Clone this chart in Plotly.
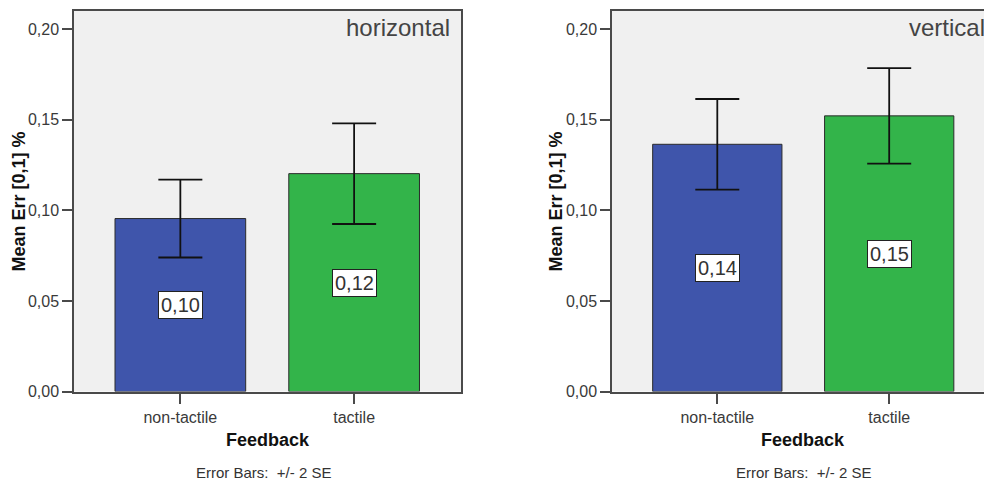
import plotly.graph_objects as go

categories = ["non-tactile", "tactile"]
horizontal_means = [0.0955, 0.1203]
horizontal_err = [0.0215, 0.0278]
vertical_means = [0.1365, 0.1522]
vertical_err = [0.0250, 0.0264]
bar_colors = ["#3F55AB", "#33B44A"]
panel_labels = ["horizontal", "vertical"]
y_ticks = [0.0, 0.05, 0.10, 0.15, 0.20]

W, H = 984, 482
FONT = "Liberation Sans, Arial, sans-serif"

def px(x):
    return x / W

def py(y):
    return (H - y) / H

fig = go.Figure()

panels = [
    (horizontal_means, horizontal_err, "x", "y"),
    (vertical_means, vertical_err, "x2", "y2"),
]
for means, errs, xa, ya in panels:
    fig.add_trace(go.Bar(
        x=categories, y=means, xaxis=xa, yaxis=ya,
        width=0.752,
        marker=dict(color=bar_colors, line=dict(color="#2b2b2b", width=1)),
        error_y=dict(type="data", array=errs, visible=True,
                     color="#111111", thickness=1.8, width=22),
        showlegend=False, hoverinfo="skip",
    ))
    for c, m in zip(categories, means):
        fig.add_annotation(
            x=c, y=m / 2, xref=xa, yref=ya, showarrow=False,
            xanchor="center", yanchor="middle",
            text=f"{m:.2f}".replace(".", ","),
            font=dict(family=FONT, size=20, color="#333333"),
            bgcolor="white", bordercolor="#222222", borderwidth=1, borderpad=2,
        )

axis_common = dict(showgrid=False, zeroline=False, showline=True,
                   automargin=False,
                   linecolor="#4a4a4a", linewidth=1.5,
                   ticks="outside", tickcolor="#4a4a4a", tickwidth=1.5,
                   tickfont=dict(family=FONT, size=16, color="#3a3a3a"))

y_dom = [py(391.5), py(11)]
y_range = [0, 0.2101]

fig.update_layout(
    template="none",
    width=W, height=H,
    autosize=False,
    margin=dict(l=0, r=0, t=0, b=0, pad=0, autoexpand=False),
    paper_bgcolor="white",
    plot_bgcolor="#F0F0F0",
    separators=",.",
    xaxis=dict(domain=[px(74), px(461)], range=[-0.612, 1.615], anchor="y",
               mirror=True, ticklen=11, **axis_common),
    yaxis=dict(domain=y_dom, range=y_range, anchor="x", mirror=True,
               tickvals=y_ticks, tickformat=".2f", ticklen=10, **axis_common),
    xaxis2=dict(domain=[px(612), 1.0], range=[-0.6126, 1.5515], anchor="y2",
                mirror=True, ticklen=11, **axis_common),
    yaxis2=dict(domain=y_dom, range=y_range, anchor="x2", mirror=False,
                tickvals=y_ticks, tickformat=".2f", ticklen=10, **axis_common),
)

# panel labels
fig.add_annotation(x=px(452), y=py(27), xref="paper", yref="paper",
                   xanchor="right", yanchor="middle", showarrow=False,
                   text=panel_labels[0],
                   font=dict(family=FONT, size=24, color="#444444"))
fig.add_annotation(x=px(987), y=py(27), xref="paper", yref="paper",
                   xanchor="right", yanchor="middle", showarrow=False,
                   text=panel_labels[1],
                   font=dict(family=FONT, size=24, color="#444444"))

# axis titles and footnotes
for cx, ycx, fx in [(267.5, 19, 263.3), (802.5, 556, 803)]:
    fig.add_annotation(x=px(cx), y=py(440), xref="paper", yref="paper",
                       xanchor="center", yanchor="middle",
                       showarrow=False, text="<b>Feedback</b>",
                       font=dict(family=FONT, size=18, color="#111111"))
    fig.add_annotation(x=px(fx), y=py(472), xref="paper", yref="paper",
                       xanchor="center", yanchor="middle",
                       showarrow=False, text="Error Bars:  +/- 2 SE",
                       font=dict(family=FONT, size=15, color="#333333"))
    fig.add_annotation(x=px(ycx), y=py(201.5), xref="paper", yref="paper",
                       xanchor="center", yanchor="middle",
                       showarrow=False, textangle=-90,
                       text="<b>Mean Err [0,1] %</b>",
                       font=dict(family=FONT, size=18, color="#111111"))

fig.write_html("out.html")
